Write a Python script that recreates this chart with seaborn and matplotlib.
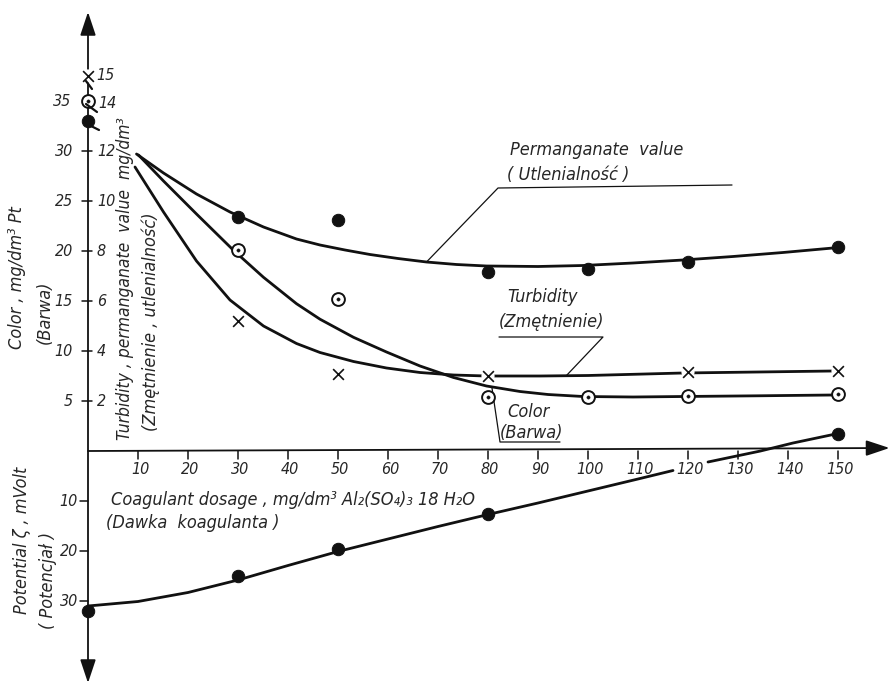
import matplotlib
matplotlib.use("Agg")
import matplotlib.pyplot as plt
from matplotlib import font_manager as fm
import pandas as pd
import seaborn as sns

# measured points (dosage mg/dm3)
dose = [0, 30, 50, 80, 100, 120, 150]
perm_pts = [13.2, 9.36, 9.24, 7.16, 7.28, 7.56, 8.16]      # mg/dm3 O2
color_pts = [35.0, 20.1, 15.2, 5.4, 5.4, 5.5, 5.7]         # mg/dm3 Pt
turb_dose = [0, 30, 50, 80, 120, 150]
turb_pts = [15.0, 5.2, 3.08, 3.0, 3.16, 3.2]               # mg/dm3
pot_dose = [0, 30, 50, 80, 150]
pot_pts = [32.0, 25.0, 19.5, 12.5, -3.5]                   # mV

# hand drawn fitted curves
perm_cx = [9.7, 15.1, 21.7, 28.4, 35.1, 41.7, 46.4, 51.4, 56.4, 62, 67.7, 73.7,
           79.7, 90, 99, 109, 119, 129, 139, 149]
perm_cy = [11.88, 11.12, 10.28, 9.56, 8.96, 8.48, 8.24, 8.04, 7.86, 7.70, 7.56,
           7.46, 7.40, 7.38, 7.42, 7.52, 7.64, 7.78, 7.94, 8.12]
color_cx = [10.1, 15.1, 21.7, 29.1, 35.1, 41.7, 46.4, 53.1, 59.7, 66.4, 73.1,
            79.7, 86.4, 92, 99, 109, 119, 134, 149]
color_cy = [29.6, 27.0, 23.7, 20.07, 17.37, 14.73, 13.18, 11.37, 9.9, 8.5, 7.35,
            6.5, 5.95, 5.65, 5.45, 5.4, 5.45, 5.52, 5.6]
turb_cx = [9.4, 15.1, 21.7, 28.4, 35.1, 41.7, 46.4, 53.1, 59.7, 66.4, 73.1,
           79.7, 90.4, 100, 119, 149]
turb_cy = [11.36, 9.56, 7.6, 6.04, 5.0, 4.3, 3.94, 3.58, 3.32, 3.14, 3.04,
           3.0, 3.0, 3.02, 3.12, 3.2]
pot_cx1 = [0, 10, 20, 30, 40, 50, 60, 70, 80, 90, 100, 110, 117]
pot_cy1 = [31.0, 30.1, 28.3, 25.8, 22.9, 20.1, 17.6, 15.1, 12.7, 10.4, 8.0, 5.6, 3.9]
pot_cx2 = [124, 134.5, 141, 150]
pot_cy2 = [2.2, 0.0, -1.6, -3.5]

x_ticks = list(range(10, 160, 10))
color_ticks = [5, 10, 15, 20, 25, 30]
turb_ticks = [2, 4, 6, 8, 10, 12]
pot_ticks = [10, 20, 30]

# upper scale: 5 mg Pt = 2 mg/dm3 turbidity; lower: 10 mV = 5 Pt units
K_TURB = 2.5
K_POT = -0.5

sns.set_style("white")


def pick_narrow():
    order = ["Liberation Sans Narrow", "DejaVu Sans", "Noto Sans", "Roboto",
             "Open Sans", "Lato", "Inter"]
    found = []
    for f in fm.fontManager.ttflist:
        st = f.stretch
        narrow = ("narrow" in f.name.lower() or "condensed" in f.name.lower()
                  or (isinstance(st, str) and "condensed" in st)
                  or (isinstance(st, int) and st < 500))
        if narrow and f.style in ("italic", "oblique") and f.weight in (400, "normal", "regular"):
            found.append(f)
    found.sort(key=lambda f: order.index(f.name) if f.name in order else 99)
    return found[0] if found else None


nf = pick_narrow()
if nf is not None:
    plt.rcParams["font.family"] = [nf.name, "DejaVu Sans"]
    plt.rcParams["font.stretch"] = nf.stretch
    plt.rcParams["font.style"] = nf.style
    scale = 1.0
else:
    plt.rcParams["font.family"] = ["DejaVu Sans"]
    plt.rcParams["font.style"] = "italic"
    scale = 0.88

fs = 11.5 * scale
fl = 13 * scale

fig = plt.figure(figsize=(8.9, 6.87), dpi=100)
ax = fig.add_axes([0, 0, 1, 1])
ax.set_xlim(-17.6, 160.4)
ax.set_ylim(-23.6, 45.1)
ax.axis("off")

ink = "#111111"
lw = 2.0

# axes with arrows
ax.annotate("", xy=(0, 43.9), xytext=(0, -23.2),
            arrowprops=dict(arrowstyle="<|-|>,head_length=0.9,head_width=0.3",
                            mutation_scale=16, color=ink, lw=1.3, shrinkA=0, shrinkB=0))
ax.annotate("", xy=(160.3, 0.3), xytext=(0, 0),
            arrowprops=dict(arrowstyle="-|>,head_length=0.9,head_width=0.3",
                            mutation_scale=16, color=ink, lw=1.3, shrinkA=0, shrinkB=0))

for t in x_ticks:
    ax.plot([t, t], [0, -0.8], color=ink, lw=1.1)
    ax.text(t + 0.4, -1.9, str(t), ha="center", va="center", fontsize=fs)

for c, t in zip(color_ticks, turb_ticks):
    ax.plot([-1.2, 0.8], [c, c], color=ink, lw=1.1)
    ax.text(-3.0, c, str(c), ha="right", va="center", fontsize=fs)
    ax.text(1.8, c, str(t), ha="left", va="center", fontsize=fs)
ax.text(-3.4, 35.0, "35", ha="right", va="center", fontsize=fs)
ax.text(2.0, 34.8, "14", ha="left", va="center", fontsize=fs)
ax.text(1.6, 37.5, "15", ha="left", va="center", fontsize=fs)

for p in pot_ticks:
    y = K_POT * p
    ax.plot([-1.6, 0], [y, y], color=ink, lw=1.1)
    ax.text(-2.0, y, str(p), ha="right", va="center", fontsize=fs)

# curves
curves = [
    (perm_cx, [v * K_TURB for v in perm_cy]),
    (color_cx, color_cy),
    (turb_cx, [v * K_TURB for v in turb_cy]),
    (pot_cx1, [v * K_POT for v in pot_cy1]),
    (pot_cx2, [v * K_POT for v in pot_cy2]),
]
for cx, cy in curves:
    sns.lineplot(x=cx, y=cy, sort=False, estimator=None, color=ink, lw=lw, ax=ax)

# markers
perm_df = pd.DataFrame({"x": dose, "y": [v * K_TURB for v in perm_pts]})
color_df = pd.DataFrame({"x": dose, "y": color_pts})
turb_df = pd.DataFrame({"x": turb_dose, "y": [v * K_TURB for v in turb_pts]})
pot_df = pd.DataFrame({"x": pot_dose, "y": [v * K_POT for v in pot_pts]})

sns.scatterplot(data=perm_df, x="x", y="y", marker="o", s=80, color=ink,
                edgecolor=ink, ax=ax, zorder=5)
sns.scatterplot(data=pot_df, x="x", y="y", marker="o", s=80, color=ink,
                edgecolor=ink, ax=ax, zorder=5)
sns.scatterplot(data=color_df, x="x", y="y", marker="o", s=85, color="white",
                edgecolor=ink, linewidth=1.4, ax=ax, zorder=5)
sns.scatterplot(data=color_df, x="x", y="y", marker="o", s=6, color=ink,
                edgecolor=ink, ax=ax, zorder=6)
sns.scatterplot(data=turb_df, x="x", y="y", marker="o", s=90, color="white",
                edgecolor="none", ax=ax, zorder=4)
sns.scatterplot(data=turb_df, x="x", y="y", marker="x", s=60, color=ink,
                linewidth=1.2, ax=ax, zorder=5)

# small leader strokes next to the starting values
for (xa, ya), (xb, yb) in [((-0.4, 37.0), (0.8, 36.2)),
                           ((-0.4, 34.7), (1.8, 33.9)),
                           ((0.2, 32.6), (2.2, 32.1))]:
    ax.plot([xa, xb], [ya, yb], color=ink, lw=1.6, zorder=6)

# labels with leaders
thin = 0.9
ax.plot([67.7, 82, 128.8], [18.9, 26.3, 26.6], color=ink, lw=thin)
ax.text(84.4, 30.1, "Permanganate  value", fontsize=fl, va="center")
ax.text(83.8, 27.6, "( Utlenialność )", fontsize=fl, va="center")

ax.plot([95.6, 103, 82.2], [7.5, 11.4, 11.4], color=ink, lw=thin)
ax.text(83.8, 15.4, "Turbidity", fontsize=fl, va="center")
ax.text(82.2, 12.9, "(Zmętnienie)", fontsize=fl, va="center")

ax.plot([80.8, 82.4, 94.4], [6.3, 0.9, 0.9], color=ink, lw=thin)
ax.text(83.8, 3.9, "Color", fontsize=fl, va="center")
ax.text(82.4, 1.8, "(Barwa)", fontsize=fl, va="center")

# axis titles
ax.text(-14.2, 17.3, "Color , mg/dm³ Pt", rotation=90, fontsize=fl,
        ha="center", va="center")
ax.text(-8.6, 13.9, "(Barwa)", rotation=90, fontsize=fl, ha="center", va="center")
ax.text(7.4, 17.2, "Turbidity , permanganate  value  mg/dm³", rotation=90,
        fontsize=12.5 * scale, ha="center", va="center")
ax.text(12.6, 12.9, "(Zmętnienie , utlenialność)", rotation=90, fontsize=fl,
        ha="center", va="center")
ax.text(4.6, -4.9, "Coagulant dosage , mg/dm³ Al₂(SO₄)₃ 18 H₂O", fontsize=fl,
        ha="left", va="center")
ax.text(3.6, -7.2, "(Dawka  koagulanta )", fontsize=fl, ha="left", va="center")
ax.text(-13.2, -8.9, "Potential ζ , mVolt", rotation=90, fontsize=fl,
        ha="center", va="center")
ax.text(-8.0, -12.9, "( Potencjał )", rotation=90, fontsize=fl,
        ha="center", va="center")

fig.savefig("out.png", dpi=100, facecolor="white")
